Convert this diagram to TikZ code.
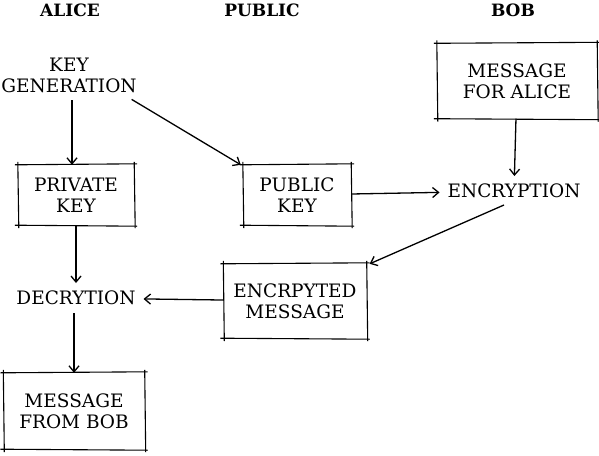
\documentclass[tikz,border=0pt]{standalone}
\usepackage{fontspec}
\setmainfont{DejaVu Serif}
\usetikzlibrary{arrows.meta,calc}

\begin{document}
\begin{tikzpicture}[x=1pt,y=-1pt,
  txt/.style={align=center, font=\fontsize{18.5}{21}\selectfont, inner sep=1pt},
  word/.style={txt, outer sep=7pt},
  head/.style={font=\fontsize{17}{18}\selectfont\bfseries},
  box/.style={txt, minimum width=#1, minimum height=60pt},
  arr/.style={line width=1.3pt, -{Straight Barb[length=6pt,width=10pt,line width=1.3pt]}}]
 \useasboundingbox (0,0) rectangle (599,455);
 % column heads
 \node (alice)  [head] at (70,10)  {ALICE};
 \node (public) [head] at (262,10) {PUBLIC};
 \node (bob)    [head] at (513,10) {BOB};
 % steps
 \node (keygen)   [word] at (69,75)   {KEY\\GENERATION};
 \node (msgalice) [box=160pt, minimum height=75pt] at (517,81) {MESSAGE\\FOR ALICE};
 \node (privkey)  [box=116pt] at (76,195)  {PRIVATE\\KEY};
 \node (pubkey)   [box=108pt] at (297,195) {PUBLIC\\KEY};
 \node (encrypt)  [word] at (514,191) {ENCRYPTION};
 \node (encmsg)   [box=143pt, minimum height=74pt] at (295,301) {ENCRPYTED\\MESSAGE};
 \node (decrypt)  [word] at (76,298)  {DECRYTION};
 \node (msgbob)   [box=141pt, minimum height=76pt] at (74,411) {MESSAGE\\FROM BOB};
 % sketchy frames
 \foreach \n in {msgalice,privkey,pubkey,encmsg,msgbob} {
   \draw[line width=1.1pt] ($(\n.north west)+(-3,0)$) -- ($(\n.north east)+(3,-1)$);
   \draw[line width=1.1pt] ($(\n.south west)+(-3,0)$) -- ($(\n.south east)+(3,1)$);
   \draw[line width=1.1pt] ($(\n.north west)+(0,-3)$) -- ($(\n.south west)+(1,3)$);
   \draw[line width=1.1pt] ($(\n.north east)+(0,-3)$) -- ($(\n.south east)+(1,3)$);
 }
 % arrow starts
 \coordinate (k1) at ($(keygen.south)+(3,0)$);
 \coordinate (k2) at ($(keygen.south east)+(-13,-1)$);
 \coordinate (e1) at ($(encrypt.south)+(-10,-1)$);
 % flow
 \draw[arr] (k1) -- (k1 |- privkey.north);
 \draw[arr] (k2) -- ($(pubkey.north west)+(-2,0)$);
 \draw[arr] (msgalice) -- (encrypt);
 \draw[arr] (pubkey) -- (encrypt);
 \draw[arr] (e1) -- ($(encmsg.north east)+(3,0)$);
 \draw[arr] (encmsg) -- (decrypt);
 \draw[arr] (privkey) -- (decrypt);
 \draw[arr] (decrypt.south -| msgbob.north) -- (msgbob.north);
\end{tikzpicture}
\end{document}
